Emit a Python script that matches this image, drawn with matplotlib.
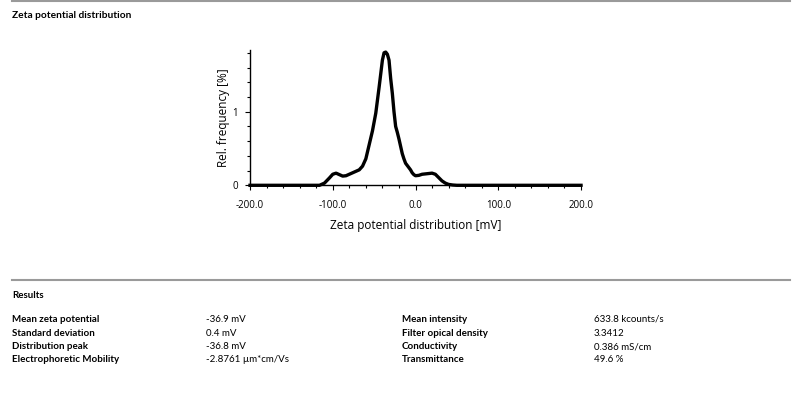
import matplotlib
matplotlib.use("Agg")
import matplotlib.pyplot as plt
from matplotlib.lines import Line2D
from matplotlib.ticker import MultipleLocator, FormatStrFormatter

# ....... Data ........

zeta_mv = [-200, -116, -110, -104, -100, -96, -92, -88, -84, -80, -76, -72, -68,
           -64, -60, -56, -52, -48, -44, -40, -38, -36, -34, -32, -30, -28, -26,
           -24, -22, -20, -18, -16, -14, -12, -10, -8, -6, -4, -2, 0, 4, 8, 12,
           16, 20, 24, 28, 32, 36, 40, 45, 50, 200]
rel_freq = [0, 0, 0.03, 0.10, 0.15, 0.165, 0.145, 0.125, 0.13, 0.15, 0.17, 0.19,
            0.21, 0.26, 0.36, 0.55, 0.74, 0.98, 1.33, 1.70, 1.80, 1.81, 1.78,
            1.70, 1.45, 1.25, 1.00, 0.80, 0.72, 0.63, 0.53, 0.43, 0.36, 0.30,
            0.27, 0.24, 0.21, 0.17, 0.145, 0.13, 0.135, 0.15, 0.155, 0.16, 0.165,
            0.15, 0.105, 0.06, 0.03, 0.012, 0.004, 0, 0]

left_names = ["Mean zeta potential", "Standard deviation", "Distribution peak",
              "Electrophoretic Mobility"]
left_values = ["-36.9 mV", "0.4 mV", "-36.8 mV", "-2.8761 \u00b5m*cm/Vs"]
right_names = ["Mean intensity", "Filter opical density", "Conductivity",
               "Transmittance"]
right_values = ["633.8 kcounts/s", "3.3412", "0.386 mS/cm", "49.6 %"]

W, H = 793, 394
plot_font = "Open Sans"
table_font = "Lato"


def fx(px):
    return px / W


def fy(py):
    return 1 - py / H


fig = plt.figure(figsize=(W / 100, H / 100), dpi=100)

# --- Horizontal rules
for y in (0.8, 280):
    fig.add_artist(Line2D([fx(12), fx(790)], [fy(y), fy(y)], color="#9a9a9a",
                          linewidth=1.5, transform=fig.transFigure))

fig.text(fx(12), fy(15), "Zeta potential distribution", family=table_font,
         fontweight="bold", fontsize=7.3, va="center", ha="left")

# --- Distribution plot
ax = fig.add_axes([fx(250), fy(185.3), fx(581 - 250), (185.3 - 50) / H])
ax.plot(zeta_mv, rel_freq, color="black", linewidth=2.4,
        solid_joinstyle="round", clip_on=False)
ax.set_xlim(-200, 200)
ax.set_ylim(0, 1.838)

for side in ("top", "right"):
    ax.spines[side].set_visible(False)
for side in ("left", "bottom"):
    ax.spines[side].set_linewidth(1.0)

ax.xaxis.set_major_locator(MultipleLocator(100))
ax.xaxis.set_minor_locator(MultipleLocator(20))
ax.xaxis.set_major_formatter(FormatStrFormatter("%.1f"))
ax.yaxis.set_major_locator(MultipleLocator(1))
ax.yaxis.set_minor_locator(MultipleLocator(0.2))

ax.tick_params(axis="x", which="major", length=3.5, width=0.8, pad=7,
               labelsize=7)
ax.tick_params(axis="y", which="major", length=3.5, width=0.8, pad=5,
               labelsize=7)
ax.tick_params(which="minor", length=2.2, width=0.8)
for lbl in ax.get_xticklabels() + ax.get_yticklabels():
    lbl.set_family(plot_font)

ax.set_xlabel("Zeta potential distribution [mV]", family=plot_font,
              fontsize=8.5, labelpad=6)
ax.set_ylabel("Rel. frequency [%]", family=plot_font, fontsize=8.5,
              labelpad=1.5)

# --- Results table
fig.text(fx(12), fy(295), "Results", family=table_font, fontweight="bold",
         fontsize=7, va="center", ha="left")
row_y = [319, 333, 346.5, 360]
for i, y in enumerate(row_y):
    fig.text(fx(12), fy(y), left_names[i], family=table_font,
             fontweight="bold", fontsize=7, va="center")
    fig.text(fx(206), fy(y), left_values[i], family=table_font, fontsize=7,
             va="center")
    fig.text(fx(402), fy(y), right_names[i], family=table_font,
             fontweight="bold", fontsize=7, va="center")
    fig.text(fx(594), fy(y), right_values[i], family=table_font, fontsize=7,
             va="center")

fig.savefig("out.png", dpi=100)
